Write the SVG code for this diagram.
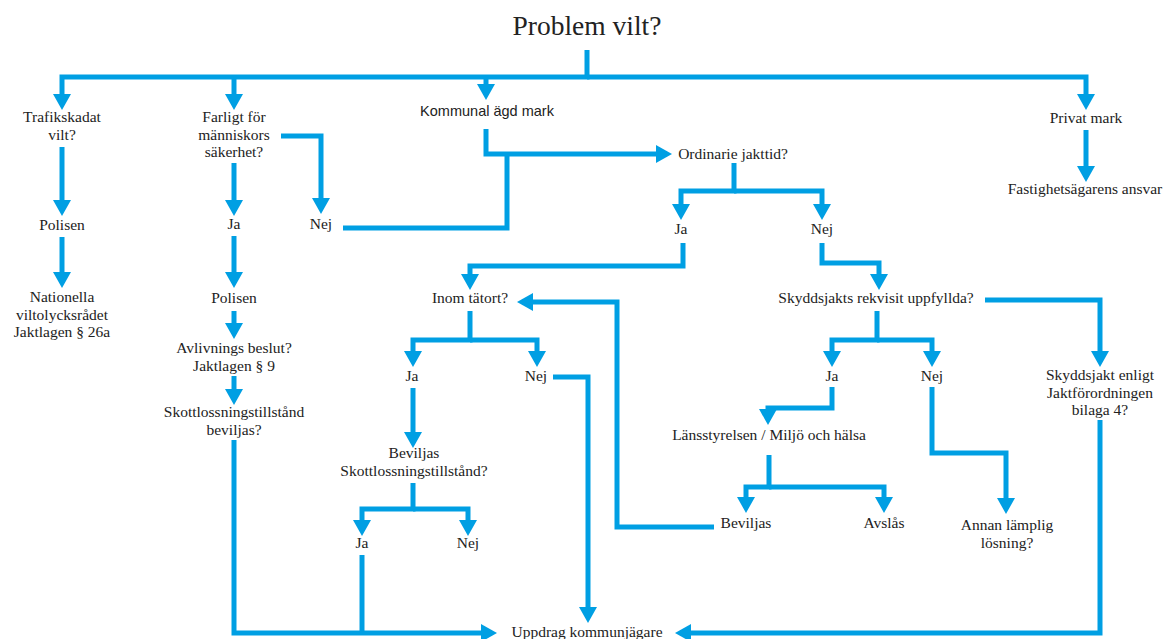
<svg xmlns="http://www.w3.org/2000/svg" width="1172" height="639" viewBox="0 0 1172 639">
<style>
.t{font-family:"Liberation Serif","Times New Roman",serif;font-size:15.5px;fill:#222;text-anchor:middle}
.s{font-family:"Liberation Sans",Arial,sans-serif;font-size:14.5px;fill:#222;text-anchor:middle}
.title{font-family:"Liberation Serif","Times New Roman",serif;font-size:27.5px;fill:#222;text-anchor:middle}
.c path{fill:none;stroke:#009FE3;stroke-width:5;stroke-linejoin:miter}
.a{marker-end:url(#ah)}
</style>
<defs>
<marker id="ah" viewBox="0 0 16 18" refX="11" refY="9" markerWidth="16" markerHeight="18" markerUnits="userSpaceOnUse" orient="auto">
<path d="M0,0 L16,9 L0,18 z" fill="#009FE3"/>
</marker>
</defs>
<rect width="1172" height="639" fill="#fff"/>
<g id="connectors" class="c">
<path class="a" d="M587,50 V77 H62 V105"/>
<path class="a" d="M587,77 H1086 V105"/>
<path class="a" d="M234,77 V105"/>
<path class="a" d="M486,77 V95"/>
<path class="a" d="M62,147 V211"/>
<path class="a" d="M62,237 V283"/>
<path class="a" d="M234,163 V211"/>
<path class="a" d="M281,136 H321 V209"/>
<path class="a" d="M234,236 V283"/>
<path class="a" d="M234,311 V334"/>
<path class="a" d="M234,376 V400"/>
<path class="a" d="M234,440 V633 H492"/>
<path d="M343,228 H507 V154"/>
<path class="a" d="M486,129 V154 H667"/>
<path class="a" d="M1086,130 V177"/>
<path class="a" d="M734,163 V191 H681 V215"/>
<path class="a" d="M734,191 H822 V215"/>
<path class="a" d="M683,243 V266 H470 V285"/>
<path class="a" d="M822,243 V263 H879 V285"/>
<path class="a" d="M985,300 H1100 V362"/>
<path class="a" d="M470,311 V340 H413 V362"/>
<path class="a" d="M470,340 H537 V362"/>
<path class="a" d="M413,388 V443"/>
<path class="a" d="M553,377 H588 V618"/>
<path class="a" d="M413,483 V509 H362 V531"/>
<path class="a" d="M413,509 H468 V531"/>
<path d="M362,555 V633"/>
<path class="a" d="M877,311 V340 H832 V362"/>
<path class="a" d="M877,340 H932 V362"/>
<path class="a" d="M832,387 V408 H768 V420"/>
<path class="a" d="M769,455 V487 H746 V508"/>
<path class="a" d="M769,487 H884 V508"/>
<path class="a" d="M714,527 H617 V302 H522"/>
<path class="a" d="M932,387 V453 H1006 V509"/>
<path class="a" d="M1100,420 V633 H680"/>
</g>
<g id="n-title"><text class="title" x="587" y="35">Problem vilt?</text></g>
<g id="n-trafik"><text class="t" x="62" y="122">Trafikskadat</text><text class="t" x="62" y="139.5">vilt?</text></g>
<g id="n-farligt"><text class="t" x="234" y="122">Farligt för</text><text class="t" x="234" y="139.5">människors</text><text class="t" x="234" y="157">säkerhet?</text></g>
<g id="n-kommunal"><text class="s" x="487" y="116">Kommunal ägd mark</text></g>
<g id="n-privat"><text class="t" x="1086" y="123">Privat mark</text></g>
<g id="n-fastighet"><text class="t" x="1085" y="194">Fastighetsägarens ansvar</text></g>
<g id="n-polisen1"><text class="t" x="62" y="230">Polisen</text></g>
<g id="n-nationella"><text class="t" x="62" y="302">Nationella</text><text class="t" x="62" y="319.5">viltolycksrådet</text><text class="t" x="62" y="337">Jaktlagen § 26a</text></g>
<g id="n-ja1"><text class="t" x="234" y="229">Ja</text></g>
<g id="n-nej1"><text class="t" x="321" y="229">Nej</text></g>
<g id="n-polisen2"><text class="t" x="234" y="303">Polisen</text></g>
<g id="n-avlivning"><text class="t" x="234" y="353">Avlivnings beslut?</text><text class="t" x="234" y="370.5">Jaktlagen § 9</text></g>
<g id="n-skott1"><text class="t" x="234" y="417">Skottlossningstillstånd</text><text class="t" x="234" y="434.5">beviljas?</text></g>
<g id="n-ordinarie"><text class="t" x="733" y="159">Ordinarie jakttid?</text></g>
<g id="n-ja2"><text class="t" x="681" y="234">Ja</text></g>
<g id="n-nej2"><text class="t" x="822" y="234">Nej</text></g>
<g id="n-inom"><text class="t" x="470" y="303">Inom tätort?</text></g>
<g id="n-skyddsjakts"><text class="t" x="876" y="303">Skyddsjakts rekvisit uppfyllda?</text></g>
<g id="n-bilaga"><text class="t" x="1100" y="380">Skyddsjakt enligt</text><text class="t" x="1100" y="397.5">Jaktförordningen</text><text class="t" x="1100" y="415">bilaga 4?</text></g>
<g id="n-ja3"><text class="t" x="412" y="381">Ja</text></g>
<g id="n-nej3"><text class="t" x="536" y="381">Nej</text></g>
<g id="n-ja4"><text class="t" x="832" y="381">Ja</text></g>
<g id="n-nej4"><text class="t" x="932" y="381">Nej</text></g>
<g id="n-beviljas1"><text class="t" x="414" y="458">Beviljas</text><text class="t" x="414" y="475.5">Skottlossningstillstånd?</text></g>
<g id="n-lans"><text class="t" x="769" y="440">Länsstyrelsen / Miljö och hälsa</text></g>
<g id="n-ja5"><text class="t" x="362" y="548">Ja</text></g>
<g id="n-nej5"><text class="t" x="468" y="548">Nej</text></g>
<g id="n-beviljas2"><text class="t" x="746" y="528">Beviljas</text></g>
<g id="n-avslas"><text class="t" x="884" y="528">Avslås</text></g>
<g id="n-annan"><text class="t" x="1007" y="530">Annan lämplig</text><text class="t" x="1007" y="547.5">lösning?</text></g>
<g id="n-uppdrag"><text class="t" x="587" y="637">Uppdrag kommunjägare</text></g>
</svg>
